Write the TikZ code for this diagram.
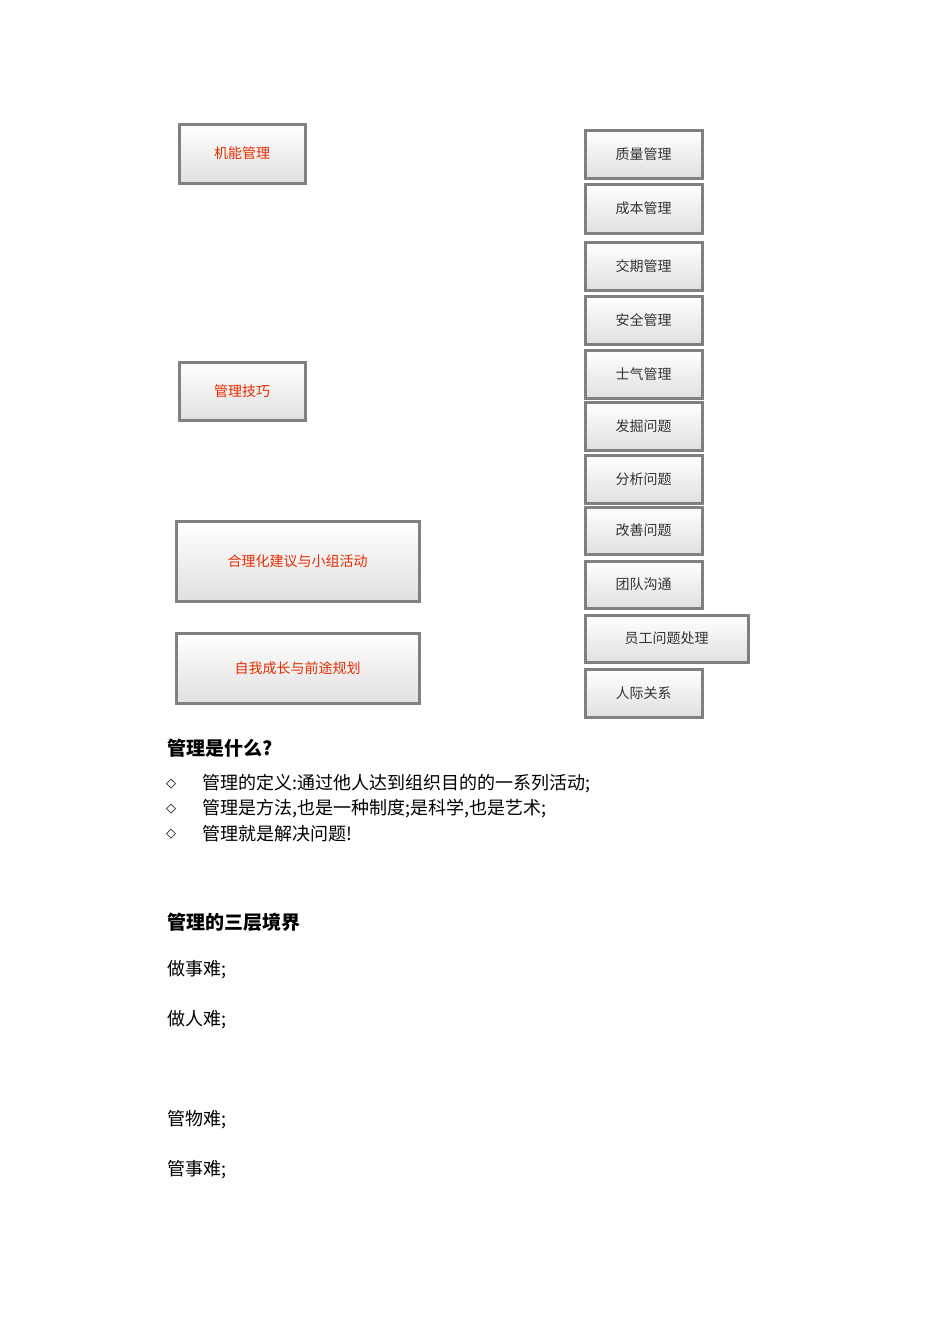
\documentclass[tikz,border=0pt]{standalone}
\usepackage{fontspec}
\setmainfont{Noto Sans CJK SC}
\newfontfamily\dejavu{DejaVu Sans}
\begin{document}
\begin{tikzpicture}[x=1pt,y=-1pt,
 boxst/.style={draw=black!50,line width=3pt,top color=white,bottom color=black!12,inner sep=0pt},
 lt/.style={text=red!60!orange!90!black,font=\fontsize{14}{16}\selectfont},
 rt/.style={text=black!80,font=\fontsize{14}{16}\selectfont},
 body/.style={anchor=west,inner sep=0pt,font=\fontsize{18}{20}\selectfont},
 head/.style={anchor=west,inner sep=0pt,font=\fontsize{19}{21}\selectfont\bfseries}]
\useasboundingbox (0,0) rectangle (950,1344);
\newcommand\bx[6]{\path[boxst] (#1,#2) rectangle (#3,#4); \node[#5] (#6) at ({(#1+#3)/2},{(#2+#4)/2})}
\bx{179}{124}{305}{183}{lt}{a}{机能管理};
\bx{179}{362}{305}{420}{lt}{b}{管理技巧};
\bx{176}{521}{419}{601}{lt}{c}{合理化建议与小组活动};
\bx{176}{633}{419}{703}{lt}{d}{自我成长与前途规划};
\bx{585}{130}{702}{178}{rt}{r1}{质量管理};
\bx{585}{184}{702}{233}{rt}{r2}{成本管理};
\bx{585}{242}{702}{290}{rt}{r3}{交期管理};
\bx{585}{296}{702}{344}{rt}{r4}{安全管理};
\bx{585}{350}{702}{398}{rt}{r5}{士气管理};
\bx{585}{402}{702}{450}{rt}{r6}{发掘问题};
\bx{585}{455}{702}{503}{rt}{r7}{分析问题};
\bx{585}{507}{702}{554}{rt}{r8}{改善问题};
\bx{585}{561}{702}{608}{rt}{r9}{团队沟通};
\bx{585}{615}{748}{662}{rt}{r10}{员工问题处理};
\bx{585}{669}{702}{717}{rt}{r11}{人际关系};
\node[head] (h1) at (167,748) {管理是什么?};
\foreach \y/\t [count=\i] in {784/管理的定义:通过他人达到组织目的的一系列活动;,809/{管理是方法,也是一种制度;是科学,也是艺术;},834/管理就是解决问题!}{
 \node[body,font=\dejavu\fontsize{13}{15}\selectfont] (dm\i) at (166,\y) {◇};
 \node[body] (l\i) at (202,\y) {\t};}
\node[head] (h2) at (167,922) {管理的三层境界};
\node[body] (p1) at (167,970) {做事难;};
\node[body] (p2) at (167,1020) {做人难;};
\node[body] (p3) at (167,1120) {管物难;};
\node[body] (p4) at (167,1170) {管事难;};
\end{tikzpicture}
\end{document}
